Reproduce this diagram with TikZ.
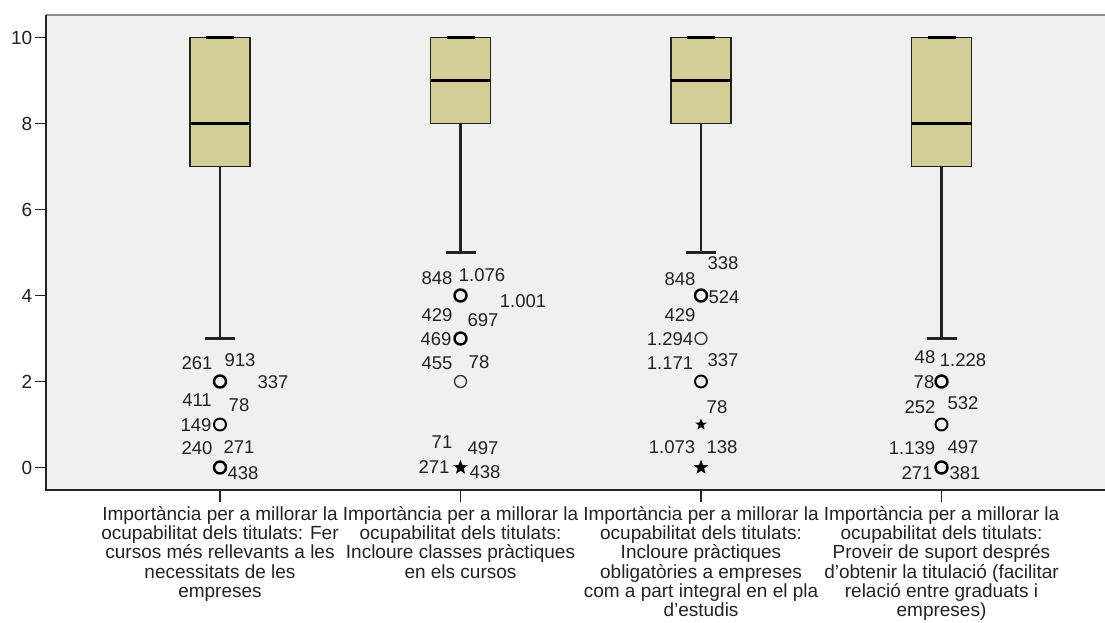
\documentclass[tikz,border=0pt]{standalone}
\usepackage{fontspec}
\setmainfont{Liberation Sans}
\usetikzlibrary{shapes.geometric}
\definecolor{plotbg}{HTML}{F0F0F0}
\definecolor{boxc}{HTML}{D3CE97}
\definecolor{frameg}{HTML}{8C8C8C}
\definecolor{ink}{HTML}{222222}
\begin{document}
\begin{tikzpicture}[x=1pt,y=-1pt,
  num/.style={font=\fontsize{18.5}{19}\selectfont, inner sep=0pt, text=ink},
  ticklbl/.style={font=\fontsize{19}{19}\selectfont, inner sep=0pt, text=ink, anchor=east},
  catlbl/.style={font=\fontsize{19}{19.3}\selectfont, inner sep=0pt, text=ink, align=center, anchor=north},
  boxbody/.style={fill=boxc, draw=ink, line width=1.4pt},
  medline/.style={draw=black, line width=3pt},
  whisk/.style={draw=ink, line width=2.2pt},
  capline/.style={draw=ink, line width=2.2pt},
  oc/.style={circle, draw=black, minimum size=12pt, inner sep=0pt, line width=2.4pt},
  ocm/.style={circle, draw=black, minimum size=12pt, inner sep=0pt, line width=1.9pt},
  oct/.style={circle, draw=black!80, minimum size=12pt, inner sep=0pt, line width=1.3pt},
  ostar/.style={star, star points=5, star point ratio=2.4, fill=black, draw=black, minimum size=14pt, inner sep=0pt},
  ostart/.style={star, star points=5, star point ratio=2.4, fill=black, minimum size=12pt, inner sep=0pt},
  axisl/.style={draw=ink, line width=1.6pt},
]
\useasboundingbox (0,0) rectangle (1105,622);
\fill[white] (0,0) rectangle (1105,622);
% plot area
\fill[plotbg] (46,15) rectangle (1105,490);
\draw[frameg, line width=2pt] (46,15) -- (1105,15);
\coordinate (yaxtop) at (46,15);
\coordinate (yaxbot) at (46,490);
\coordinate (xaxend) at (1105,490);
\draw[axisl] (yaxtop) -- (yaxbot) -- (xaxend);
% y ticks (value v at y = 467.5 - 43 v)
\foreach \v in {0,2,4,6,8,10}{
  \coordinate (yt\v) at (46,{467.5-43*\v});
  \draw[ink, line width=1.6pt] (yt\v) -- ++(-11,0) node[ticklbl, xshift=-2pt] (ytl\v) {\v};
}
% boxes: index / center / low whisker / q1 / median / q3
\foreach \i/\xc/\lo/\qa/\md/\qb in {1/220/3/7/8/10, 2/460.5/5/8/9/10, 3/701/5/8/9/10, 4/941.5/3/7/8/10}{
  \coordinate (lw\i) at (\xc,{467.5-43*\lo});
  \coordinate (q1\i) at (\xc,{467.5-43*\qa});
  \draw[whisk] (q1\i) -- (lw\i);
  \draw[capline] ([xshift=-15pt]lw\i) -- ([xshift=15pt]lw\i);
  \draw[boxbody] ({\xc-30},{467.5-43*\qb}) rectangle ({\xc+30},{467.5-43*\qa});
  \draw[medline] ({\xc-30},{467.5-43*\md}) -- ({\xc+30},{467.5-43*\md});
  \draw[black, line width=2.4pt] ({\xc-14},{467.5-43*\qb}) -- ({\xc+14},{467.5-43*\qb});
  \coordinate (xt\i) at (\xc,490);
  \draw[ink, line width=1.6pt] (xt\i) -- ++(0,12);
}
% --- outliers box 1
\node[oc]  (a2) at (220,381.5) {};
\node[ocm] (a1) at (220,424.5) {};
\node[oc]  (a0) at (220,467.5) {};
\node[num] (a261) at (197,363) {261};
\node[num] (a913) at (240,360) {913};
\node[num] (a337) at (273,382) {337};
\node[num] (a411) at (197,400) {411};
\node[num] (a78)  at (239,405) {78};
\node[num] (a149) at (196,425) {149};
\node[num] (a240) at (197,448) {240};
\node[num] (a271) at (239,447) {271};
\node[num] (a438) at (243,473) {438};
% --- outliers box 2
\node[oc]  (b4) at (460.5,295.5) {};
\node[oc]  (b3) at (460.5,338.5) {};
\node[oct] (b2) at (460.5,381.5) {};
\node[ostar] (b0) at (460.5,467.5) {};
\node[num] (b848)  at (437,278) {848};
\node[num] (b1076) at (482,275) {1.076};
\node[num] (b1001) at (523,301) {1.001};
\node[num] (b429)  at (437,315) {429};
\node[num] (b697)  at (483,320) {697};
\node[num] (b469)  at (436,339) {469};
\node[num] (b455)  at (437,363) {455};
\node[num] (b78)   at (479,362) {78};
\node[num] (b71)   at (442,442) {71};
\node[num] (b497)  at (483,448) {497};
\node[num] (b271)  at (434,467) {271};
\node[num] (b438)  at (485,472) {438};
% --- outliers box 3
\node[oc]  (c4) at (701,295.5) {};
\node[oct] (c3) at (701,338.5) {};
\node[ocm] (c2) at (701,381.5) {};
\node[ostart] (c1) at (701,424.5) {};
\node[ostar] (c0) at (701,467.5) {};
\node[num] (c338)  at (723,263) {338};
\node[num] (c848)  at (680,279) {848};
\node[num] (c524)  at (724,297) {524};
\node[num] (c429)  at (680,315) {429};
\node[num] (c1294) at (670,339) {1.294};
\node[num] (c1171) at (670,363) {1.171};
\node[num] (c337)  at (723,360) {337};
\node[num] (c78)   at (717,407) {78};
\node[num] (c1073) at (672,447) {1.073};
\node[num] (c138)  at (722,447) {138};
% --- outliers box 4
\node[oc]  (d2) at (941.5,381.5) {};
\node[ocm] (d1) at (941.5,424.5) {};
\node[oc]  (d0) at (941.5,467.5) {};
\node[num] (d48)   at (925,357) {48};
\node[num] (d1228) at (963,360) {1.228};
\node[num] (d78)   at (924,382) {78};
\node[num] (d252)  at (920,407) {252};
\node[num] (d532)  at (963,403) {532};
\node[num] (d1139) at (912,448) {1.139};
\node[num] (d497)  at (963,447) {497};
\node[num] (d271)  at (917,473) {271};
\node[num] (d381)  at (965,473) {381};
% category labels
\node[catlbl] (cat1) at (220,506) {Importància per a millorar la\\ocupabilitat dels titulats: Fer\\cursos més rellevants a les\\necessitats de les\\empreses};
\node[catlbl] (cat2) at (460.5,506) {Importància per a millorar la\\ocupabilitat dels titulats:\\Incloure classes pràctiques\\en els cursos};
\node[catlbl] (cat3) at (701,506) {Importància per a millorar la\\ocupabilitat dels titulats:\\Incloure pràctiques\\obligatòries a empreses\\com a part integral en el pla\\d’estudis};
\node[catlbl] (cat4) at (941.5,506) {Importància per a millorar la\\ocupabilitat dels titulats:\\Proveir de suport després\\d’obtenir la titulació (facilitar\\relació entre graduats i\\empreses)};
\end{tikzpicture}
\end{document}
